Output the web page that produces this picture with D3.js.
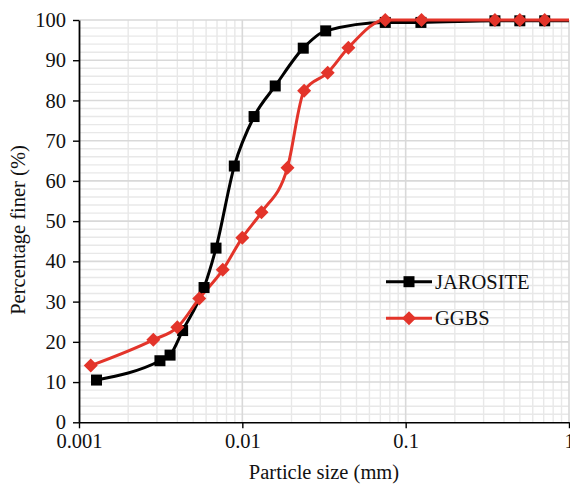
<!DOCTYPE html>
<html><head><meta charset="utf-8">
<script src="https://cdn.jsdelivr.net/npm/d3@7"></script>
<style>body{margin:0;background:#fff}svg{display:block}text{font-family:"Liberation Serif","Times New Roman",serif}</style>
</head><body>
<svg id="c" width="570" height="484"></svg>
<script>
const jarositeSize = [0.00128, 0.00313, 0.00361, 0.00431, 0.00583, 0.0069, 0.00893, 0.0118, 0.0159, 0.0236, 0.0324, 0.075, 0.124, 0.352, 0.5, 0.71, 1.2];
const jarositePct  = [10.5, 15.3, 16.7, 22.8, 33.5, 43.3, 63.7, 76.0, 83.6, 93.0, 97.3, 99.4, 99.4, 99.8, 99.8, 99.8, 99.8];
const ggbsSize = [0.00118, 0.00285, 0.0040, 0.00545, 0.00759, 0.0100, 0.0131, 0.0189, 0.0239, 0.0333, 0.0446, 0.075, 0.125, 0.352, 0.5, 0.71, 1.2];
const ggbsPct  = [14.1, 20.5, 23.6, 30.8, 37.9, 45.9, 52.2, 63.3, 82.4, 86.9, 93.1, 100, 100, 100, 100, 100, 100];
const xTicks = [0.001, 0.01, 0.1, 1];
const xTickLabels = ["0.001", "0.01", "0.1", "1"];
const yTicks = [0, 10, 20, 30, 40, 50, 60, 70, 80, 90, 100];
const seriesNames = ["JAROSITE", "GGBS"];
const seriesColors = ["#000000", "#E3342A"];

const FS = 20.5;
const FONT = "Liberation Serif";
const svg = d3.select("#c");
const L = 79, R = 569, T = 20, B = 422.3;
const x = d3.scaleLog().domain([0.001, 1]).range([L, R]);
const y = d3.scaleLinear().domain([0, 100]).range([B, T]);

// grid
const g = svg.append("g");
const minorX = [];
for (let d = 0.001; d < 1; d *= 10) for (let k = 2; k <= 9; k++) minorX.push(d * k);
g.selectAll(".vx").data(minorX).enter().append("line")
  .attr("x1", d => x(d)).attr("x2", d => x(d)).attr("y1", T).attr("y2", B)
  .attr("stroke", "#e8e8e8").attr("stroke-width", 1.4);
const minorY = d3.range(2, 100, 2).filter(v => v % 10 !== 0);
g.selectAll(".hy").data(minorY).enter().append("line")
  .attr("x1", L).attr("x2", R).attr("y1", d => y(d)).attr("y2", d => y(d))
  .attr("stroke", "#e8e8e8").attr("stroke-width", 1.4);
g.selectAll(".vmaj").data(xTicks.slice(1)).enter().append("line")
  .attr("x1", d => x(d)).attr("x2", d => x(d)).attr("y1", T).attr("y2", B)
  .attr("stroke", "#d9d9d9").attr("stroke-width", 1.6);
g.selectAll(".hmaj").data(yTicks.slice(1)).enter().append("line")
  .attr("x1", L).attr("x2", R).attr("y1", d => y(d)).attr("y2", d => y(d))
  .attr("stroke", "#d9d9d9").attr("stroke-width", 1.6);

// axes
const xAxis = d3.axisBottom(x).tickValues(xTicks).tickFormat((d, i) => xTickLabels[i]).tickSize(6).tickSizeOuter(0);
const ax = svg.append("g").attr("transform", `translate(0,${B})`).call(xAxis);
ax.select(".domain").attr("stroke", "#000").attr("stroke-width", 1.6);
ax.selectAll(".tick line").attr("stroke", "#000").attr("stroke-width", 1.4);
ax.selectAll("text").attr("y", 26).attr("dy", 0).attr("font-size", FS).attr("fill", "#111").style("font-family", FONT);

const yAxis = d3.axisLeft(y).tickValues(yTicks).tickSize(6).tickSizeOuter(0).tickPadding(7);
const ay = svg.append("g").attr("transform", `translate(${L},0)`).call(yAxis);
ay.select(".domain").attr("stroke", "#000").attr("stroke-width", 1.8);
ay.selectAll(".tick line").attr("stroke", "#000").attr("stroke-width", 1.4);
ay.selectAll("text").attr("font-size", FS).attr("fill", "#111").style("font-family", FONT);

svg.append("text").attr("x", (L + R) / 2).attr("y", 479).attr("text-anchor", "middle")
  .attr("font-size", FS).attr("fill", "#111").text("Particle size (mm)");
svg.append("text").attr("transform", `translate(25,230) rotate(-90)`).attr("text-anchor", "middle")
  .attr("font-size", FS).attr("fill", "#111").text("Percentage finer (%)");

// clip
svg.append("clipPath").attr("id", "clip").append("rect").attr("x", L - 12).attr("y", 0).attr("width", R - L + 12).attr("height", 484);

const series = [
  { name: seriesNames[0], color: seriesColors[0], data: jarositeSize.map((s, i) => [s, jarositePct[i]]), shape: "square" },
  { name: seriesNames[1], color: seriesColors[1], data: ggbsSize.map((s, i) => [s, ggbsPct[i]]), shape: "diamond" }
];
const line = d3.line().x(d => x(d[0])).y(d => y(d[1])).curve(d3.curveMonotoneX);
const plot = svg.append("g").attr("clip-path", "url(#clip)");
function marker(sel, s) {
  if (s.shape === "square") return sel.append("rect").attr("x", -5.5).attr("y", -5.5).attr("width", 11).attr("height", 11).attr("fill", s.color);
  return sel.append("path").attr("d", "M0,-7L7,0L0,7L-7,0Z").attr("fill", s.color);
}
series.forEach(s => {
  plot.append("path").datum(s.data).attr("d", line).attr("fill", "none")
    .attr("stroke", s.color).attr("stroke-width", 3);
});
series.forEach(s => {
  s.data.filter(d => d[0] <= 1).forEach(d => {
    const m = plot.append("g").attr("transform", `translate(${x(d[0])},${y(d[1])})`);
    marker(m, s);
  });
});

// legend
const lg = svg.append("g");
const legY = [281.7, 318.3];
series.forEach((s, i) => {
  lg.append("line").attr("x1", 386).attr("x2", 432).attr("y1", legY[i]).attr("y2", legY[i])
    .attr("stroke", s.color).attr("stroke-width", 3);
  const m = lg.append("g").attr("transform", `translate(409,${legY[i]})`);
  marker(m, s);
  lg.append("text").attr("x", 435).attr("y", legY[i] + 7).attr("font-size", FS).attr("fill", "#111").text(s.name);
});
</script>
</body></html>
